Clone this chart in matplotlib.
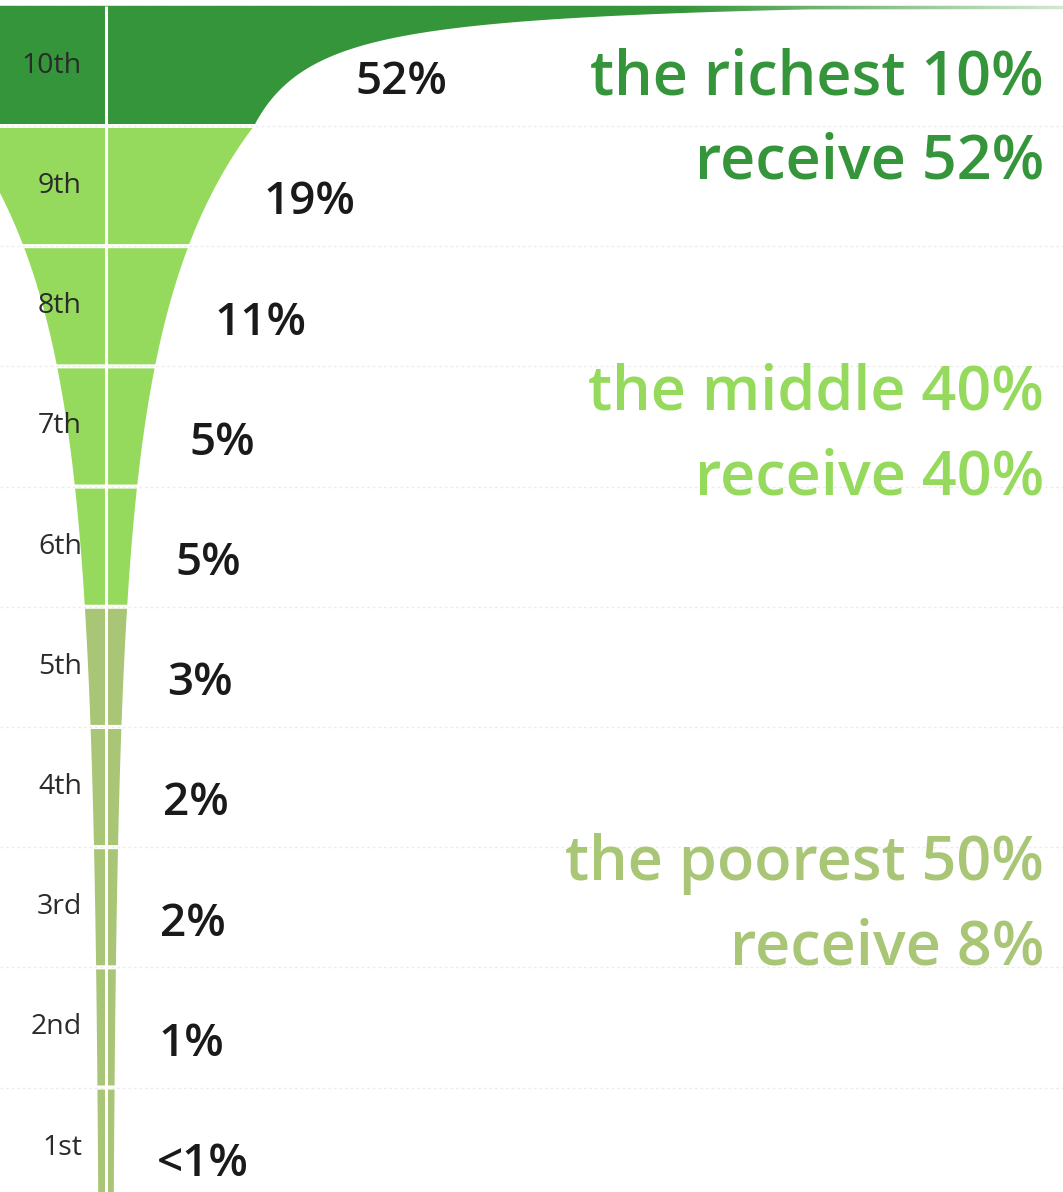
import numpy as np
import matplotlib.pyplot as plt
from matplotlib import font_manager as fm
from matplotlib.patches import Polygon
from matplotlib.colors import LinearSegmentedColormap

# income share per decile, poorest first
deciles = ['1st', '2nd', '3rd', '4th', '5th', '6th', '7th', '8th', '9th', '10th']
shares = [0.7, 1, 2, 2, 3, 5, 5, 11, 19, 52]
share_labels = ['<1%', '1%', '2%', '2%', '3%', '5%', '5%', '11%', '19%', '52%']

# groups of deciles
group_first = ['the richest 10%', 'the middle 40%', 'the poorest 50%']
group_second = ['receive 52%', 'receive 40%', 'receive 8%']
group_rows = [[10], [6, 7, 8, 9], [1, 2, 3, 4, 5]]
group_colors = ['#35953a', '#95da5c', '#a8c676']


# pick a family that really has a bold face
def bold_family():
    for fam in ['Open Sans', 'Noto Sans', 'Lato', 'Roboto']:
        if any(f.name == fam and f.weight in (600, 700, 'bold', 'semibold') for f in fm.fontManager.ttflist):
            return fam
    return 'DejaVu Sans'


fam = bold_family()
plt.rcParams['font.family'] = [fam, 'DejaVu Sans']

fig = plt.figure(figsize=(10.63, 11.92), dpi=100)
ax = fig.add_axes([0, 0, 1, 1])
ax.set_xlim(-106, 957)
ax.set_ylim(0.131, 10.048)
ax.axis('off')

row_color = {}
for rows, col in zip(group_rows, group_colors):
    for r in rows:
        row_color[r] = col

# smooth funnel: quadratic fit of log share over all deciles
mids = np.arange(1, 11) - 0.5
coef = np.polyfit(mids, np.log(shares), 2)
min_w = 4
k = (148 - min_w) / np.exp(np.polyval(coef, 9))


def half_width(y):
    return k * np.exp(np.polyval(coef, y)) + min_w


# richest decile: curve flaring out to the top
c0, a = 80, 0.0012
b = 1 / (half_width(9) - c0) - a


def top_width(y):
    return c0 + 1 / (a + b * (10 - y))


g = 0.017
# faint guide lines at row borders
for i in range(1, 10):
    ax.axhline(i, color='#ececec', lw=1, ls=(0, (2, 2)), zorder=0)

for i in range(1, 10):
    ys = np.linspace(i - 1 + g, i - g, 60)
    if i == 1:
        ys = np.linspace(0, 1 - g, 60)
    hw = half_width(ys)
    pts = np.vstack([np.column_stack([hw, ys]), np.column_stack([-hw[::-1], ys[::-1]])])
    ax.add_patch(Polygon(pts, closed=True, facecolor=row_color[i], edgecolor='none', zorder=2))

# top decile with faded tail
d = np.linspace(1, 0.03, 200)
ys = 10 - d
hw = top_width(ys)
pts = [(-200, 9 + g)] + list(zip(hw, ys)) + [(990, 10 - 0.028), (990, 10), (-200, 10)]
top_poly = Polygon(pts, closed=True, facecolor='none', edgecolor='none', zorder=2)
ax.add_patch(top_poly)
fade = LinearSegmentedColormap.from_list('fade', [(0, group_colors[0]), (0.64, group_colors[0]),
                                                  (1, '#d3e7d1')])
grad = np.linspace(0, 1, 512).reshape(1, -1)
im = ax.imshow(grad, cmap=fade, extent=[-106, 957, 9 + g, 10], aspect='auto', zorder=2)
im.set_clip_path(top_poly)

# white divider
ax.plot([0, 0], [0, 10], color='white', lw=2.2, zorder=3, solid_capstyle='butt')

# labels
for i, (name, lab) in enumerate(zip(deciles, share_labels), start=1):
    ax.text(-24, i - 0.5, name, ha='right', va='center', fontsize=20.5, color='#2b2b2b', zorder=4)
    yl = i - 0.64
    w = top_width(yl) if i == 10 else half_width(yl)
    ax.text(w + 42 + 0.14 * w, yl, lab, ha='left', va='center', fontsize=33,
            fontweight='semibold', color='#1a1a1a', zorder=4)

# group annotations
text_y = [(9.258, 8.567), (6.637, 5.93), (2.727, 2.02)]
for l1, l2, (y1, y2), col in zip(group_first, group_second, text_y, group_colors):
    ax.text(938, y1, l1, ha='right', va='baseline', fontsize=44, fontweight='semibold', color=col)
    ax.text(938, y2, l2, ha='right', va='baseline', fontsize=44, fontweight='semibold', color=col)

fig.savefig('out.png', dpi=100)
